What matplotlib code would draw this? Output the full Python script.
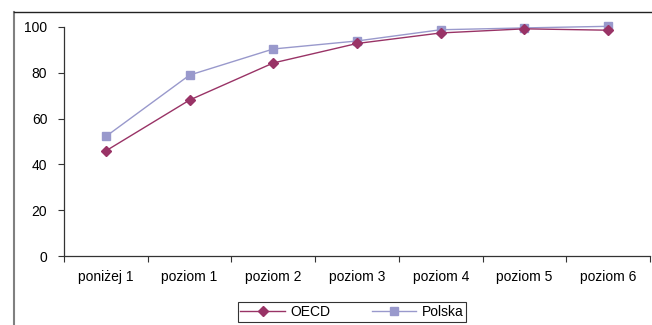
import matplotlib
matplotlib.use("Agg")
import matplotlib.pyplot as plt
from matplotlib.lines import Line2D

categories = ["poniżej 1", "poziom 1", "poziom 2", "poziom 3", "poziom 4", "poziom 5", "poziom 6"]
oecd = [45.9, 68.1, 84.3, 92.8, 97.4, 99.2, 98.6]
polska = [52.2, 79.0, 90.4, 93.9, 98.8, 99.6, 100.3]
yticks = [0, 20, 40, 60, 80, 100]

plt.rcParams['font.family'] = ['Liberation Sans', 'DejaVu Sans']
fig = plt.figure(figsize=(6.52, 3.25), dpi=100)
W, H = 652, 325
ax = fig.add_axes([64 / W, (H - 256) / H, (650 - 64) / W, (256 - 27) / H])

x = list(range(len(categories)))
ax.plot(x, oecd, color="#993366", lw=1.0, marker="D", ms=5, label="OECD", clip_on=False, zorder=3)
ax.plot(x, polska, color="#9999CC", lw=1.0, marker="s", ms=6, label="Polska", clip_on=False, zorder=2)

ax.set_xlim(-0.5, len(categories) - 0.5)
ax.set_ylim(0, 100)
ax.set_yticks(yticks)
ax.set_yticklabels([str(v) for v in yticks], fontsize=10)
ax.set_xticks([i + 0.5 for i in range(-1, len(categories))], minor=False)
ax.set_xticklabels([])
ax.set_xticks(x, minor=True)
ax.set_xticklabels(categories, minor=True, fontsize=10)
ax.tick_params(axis="x", which="minor", length=0, pad=10)
ax.tick_params(axis="x", which="major", length=4, width=0.8, direction="out", color="#333333")
ax.tick_params(axis="y", length=4, width=0.8, direction="out", color="#333333", pad=8)
for s in ["top", "right"]:
    ax.spines[s].set_visible(False)
for s in ["left", "bottom"]:
    ax.spines[s].set_color("#333333")
    ax.spines[s].set_linewidth(0.9)

leg = ax.legend(loc="upper center", bbox_to_anchor=((352 - 64) / (650 - 64), (256 - 302) / 229), ncol=2,
                frameon=True, fancybox=False, edgecolor="black", fontsize=10,
                handlelength=3.2, columnspacing=3.0, borderpad=0.2, handletextpad=0.4,
                borderaxespad=0)
leg.get_frame().set_linewidth(0.8)

fig.add_artist(Line2D([14 / W, 14 / W], [0, 1 - 12 / H], transform=fig.transFigure, color="#808080", lw=1.5))
fig.add_artist(Line2D([14 / W, 1], [1 - 12 / H, 1 - 12 / H], transform=fig.transFigure, color="#222222", lw=1.0))

fig.savefig("out.png", dpi=100)
